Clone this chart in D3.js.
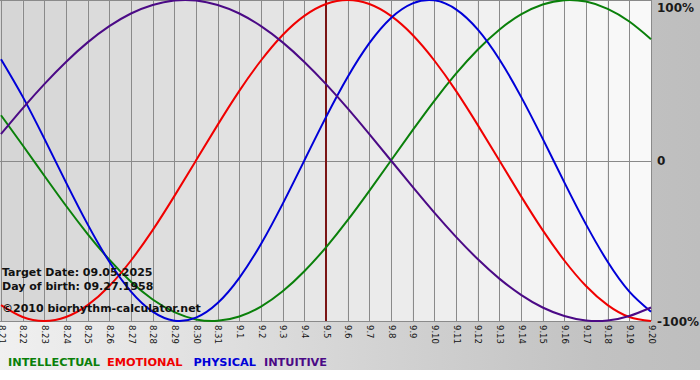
<!DOCTYPE html>
<html><head><meta charset="utf-8">
<script src="https://cdn.jsdelivr.net/npm/d3@7"></script>
<style>html,body{margin:0;padding:0;background:#fff;}svg{display:block;}</style>
</head><body>
<svg id="c" width="700" height="380"></svg>
<script>
const days = ["8.21","8.22","8.23","8.24","8.25","8.26","8.27","8.28","8.29","8.30","8.31",
  "9.1","9.2","9.3","9.4","9.5","9.6","9.7","9.8","9.9","9.10","9.11","9.12","9.13","9.14","9.15","9.16","9.17","9.18","9.19","9.20"];
const physical = [0.631,0.398,0.136,-0.136,-0.398,-0.631,-0.817,-0.942,-0.998,-0.979,-0.888,-0.731,-0.520,-0.270,0,
  0.270,0.520,0.731,0.888,0.979,0.998,0.942,0.817,0.631,0.398,0.136,-0.136,-0.398,-0.631,-0.817,-0.942];
const emotional = [-0.901,-0.975,-1,-0.975,-0.901,-0.782,-0.623,-0.434,-0.222,0,0.222,0.434,0.623,0.782,0.901,
  0.975,1,0.975,0.901,0.782,0.623,0.434,0.222,0,-0.222,-0.434,-0.623,-0.782,-0.901,-0.975,-1];
const intellectual = [0.282,0.095,-0.095,-0.282,-0.458,-0.618,-0.756,-0.866,-0.945,-0.990,-0.999,-0.972,-0.910,-0.815,-0.690,
  -0.541,-0.372,-0.189,0,0.189,0.372,0.541,0.690,0.815,0.910,0.972,0.999,0.990,0.945,0.866,0.756];
const intuitive = [0.165,0.325,0.476,0.614,0.736,0.837,0.916,0.969,0.997,0.997,0.969,0.916,0.837,0.736,0.614,
  0.476,0.325,0.165,0,-0.165,-0.325,-0.476,-0.614,-0.736,-0.837,-0.916,-0.969,-0.997,-0.997,-0.969,-0.916];
const yTicks = [1, 0, -1];
const yTickLabels = ["100%", "0", "-100%"];
const targetDay = "9.5";
const infoLines = ["Target Date: 09.05.2025", "Day of birth: 09.27.1958", "\u00A92010 biorhythm-calculator.net"];
const legendNames = ["INTELLECTUAL", "EMOTIONAL", "PHYSICAL", "INTUITIVE"];

const series = [
  {name:"INTELLECTUAL", values:intellectual, color:"#0a800a"},
  {name:"EMOTIONAL", values:emotional, color:"#f00000"},
  {name:"PHYSICAL", values:physical, color:"#0000d8"},
  {name:"INTUITIVE", values:intuitive, color:"#4b0a86"}
];
const colorOf = n => series.find(s => s.name === n).color;

const svg = d3.select("#c");
const W = 700, H = 380;
const plot = {left:1, right:651, top:0, bottom:321};

// outer background
const defs = svg.append("defs");
const og = defs.append("linearGradient").attr("id","outer").attr("x1","0").attr("x2","1").attr("y1","0").attr("y2","0");
og.append("stop").attr("offset","0").attr("stop-color","#f0f0f0");
og.append("stop").attr("offset","0.85").attr("stop-color","#c2c2c2");
og.append("stop").attr("offset","1").attr("stop-color","#bebebe");
svg.append("rect").attr("x",0).attr("y",0).attr("width",W).attr("height",370).attr("fill","url(#outer)");
svg.append("rect").attr("x",0).attr("y",370).attr("width",W).attr("height",10).attr("fill","#ffffff");

const x = d3.scalePoint().domain(days).range([plot.left, plot.right]);
const y = d3.scaleLinear().domain([-1, 1]).range([plot.bottom, plot.top]);

// plot background: banded columns from darker to lighter
const shade = d3.interpolateRgb("#d6d6d6", "#f9f9f9");
const g = svg.append("g");
g.append("rect").attr("x",0).attr("y",plot.top).attr("width",plot.left).attr("height",plot.bottom-plot.top).attr("fill","#d6d6d6");
g.selectAll("rect.band").data(days.slice(0,-1)).join("rect").attr("class","band")
  .attr("x", d => x(d))
  .attr("y", plot.top)
  .attr("width", x.step())
  .attr("height", plot.bottom - plot.top)
  .attr("fill", (d,i) => shade(i/(days.length-2)));

// vertical grid
g.selectAll("line.vg").data(days).join("line").attr("class","vg")
  .attr("x1", d => Math.round(x(d))+0.5).attr("x2", d => Math.round(x(d))+0.5)
  .attr("y1", plot.top).attr("y2", plot.bottom)
  .attr("stroke","#8a8a8a").attr("stroke-width",1);
// horizontal grid lines
g.selectAll("line.hg").data(yTicks).join("line").attr("class","hg")
  .attr("x1", 0).attr("x2", plot.right)
  .attr("y1", d => Math.round(y(d))+0.5).attr("y2", d => Math.round(y(d))+0.5)
  .attr("stroke","#8a8a8a").attr("stroke-width",1);

// target line
svg.append("line")
  .attr("x1", x(targetDay)).attr("x2", x(targetDay))
  .attr("y1", plot.top).attr("y2", plot.bottom)
  .attr("stroke","#7a1414").attr("stroke-width",2);

// curves
const line = d3.line().x((d,i) => x(days[i])).y(d => y(d)).curve(d3.curveNatural);
svg.selectAll("path.s").data(series).join("path").attr("class","s")
  .attr("d", d => line(d.values))
  .attr("fill","none").attr("stroke", d => d.color).attr("stroke-width",2);

// x axis labels (rotated)
const xa = svg.append("g").attr("transform",`translate(0,${plot.bottom+4})`)
  .call(d3.axisBottom(x).tickSize(0).tickPadding(0));
xa.select(".domain").remove();
xa.selectAll("text")
  .attr("transform","rotate(90)")
  .attr("x", 0).attr("y", 0).attr("dy","0.35em")
  .attr("text-anchor","start")
  .style("font-family","'DejaVu Sans', Verdana, sans-serif").style("font-size","8.5px")
  .attr("fill","#111");

// y labels on right
const ya = svg.append("g").attr("transform",`translate(${plot.right+6},0)`)
  .call(d3.axisRight(y).tickValues(yTicks).tickSize(0).tickPadding(0).tickFormat((d,i) => yTickLabels[i]));
ya.select(".domain").remove();
ya.selectAll("text")
  .attr("dy", (d) => d === 1 ? "0.95em" : "0.35em")
  .style("font-family","'DejaVu Sans', Verdana, sans-serif").style("font-size","12px").style("font-weight","bold")
  .attr("fill","#1a1a1a");

// info text
svg.selectAll("text.info").data(infoLines).join("text").attr("class","info")
  .attr("x", 2).attr("y", (d,i) => [276, 290, 312][i])
  .text(d => d)
  .style("font-family","'DejaVu Sans', Verdana, sans-serif").style("font-size","11px").style("font-weight","bold")
  .attr("fill","#111");

// legend
const legendGaps = [0, 7, 11, 8];
const leg = svg.append("text").attr("x", 8).attr("y", 366)
  .style("font-family","'DejaVu Sans', Verdana, sans-serif").style("font-size","11.3px").style("font-weight","bold");
legendNames.forEach((n,i) => {
  leg.append("tspan").attr("fill", colorOf(n)).attr("dx", legendGaps[i]).text(n);
});
</script>
</body></html>
